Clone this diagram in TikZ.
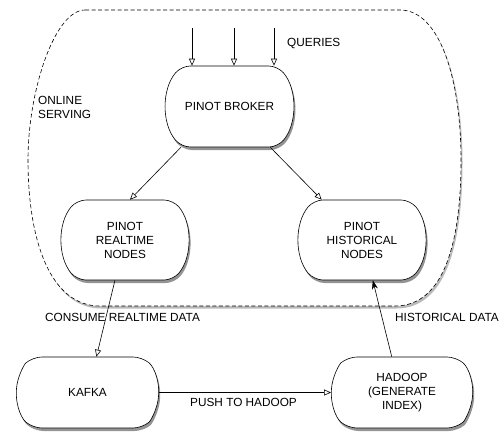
\documentclass[tikz,border=0pt]{standalone}
\usepackage{fontspec}
\setmainfont{Liberation Sans}
\usetikzlibrary{shapes.misc,shadows,arrows.meta}
\definecolor{boxshadow}{gray}{0.3}
\definecolor{regionshadow}{gray}{0.55}

\begin{document}
\begin{tikzpicture}[x=1pt, y=-1pt, font=\fontsize{11.8}{14}\selectfont,
	nodebox/.style={rounded rectangle, rounded rectangle arc length=80, rounded corners=9pt, draw, line width=0.6pt, fill=white, align=center,
		drop shadow={shadow xshift=1.5pt, shadow yshift=-3pt, fill=boxshadow, opacity=0.6}},
	flow/.style={line width=0.6pt, -{Triangle[open,length=7pt,width=6pt]}},
	lbl/.style={anchor=west, inner sep=0pt}]
		\useasboundingbox (0,0) rectangle (503,445);
		% online serving region
		\draw[line width=0.6pt, dash pattern=on 4pt off 2.5pt, fill=white,
			drop shadow={shadow xshift=1.5pt, shadow yshift=-2.5pt, fill=regionshadow, opacity=0.6}]
			(85,10) -- (400,10) .. controls (440,10) and (461,80) .. (461,160)
			.. controls (461,240) and (445,306) .. (395,306) -- (100,306)
			.. controls (50,306) and (28,240) .. (28,160)
			.. controls (28,90) and (55,10) .. cycle;
		\node[nodebox, minimum width=131pt, minimum height=81pt] (broker) at (229.5,106.5) {PINOT BROKER};
		\node[nodebox, minimum width=132pt, minimum height=80pt] (realtime) at (125,240) {PINOT\\REALTIME\\NODES};
		\node[nodebox, minimum width=132pt, minimum height=80pt] (historical) at (362,240) {PINOT\\HISTORICAL\\NODES};
		\node[nodebox, rounded rectangle arc length=100, minimum width=149pt, minimum height=71pt] (kafka) at (87.5,392.5) {KAFKA};
		\node[nodebox, rounded rectangle arc length=100, minimum width=148pt, minimum height=71pt] (hadoop) at (402,392.5) {HADOOP\\(GENERATE\\INDEX)};
		% labels
		\node[lbl] (queries) at (287,43) {QUERIES};
		\node[lbl, align=left] (online) at (38,107) {ONLINE\\SERVING};
		\node[lbl] (consume) at (45,317) {CONSUME REALTIME DATA};
		\node[lbl] (histdata) at (395,317) {HISTORICAL DATA};
		\node[lbl] (push) at (190,402) {PUSH TO HADOOP};
		% connectors
		\foreach \qx [count=\i] in {192,234,274}{
			\coordinate (q\i) at (\qx,28);
			\draw[flow] (q\i) -- (q\i |- broker.north);
		}
		\draw[flow] (broker.-140) -- (realtime.83);
		\draw[flow] (broker.-45) -- (historical.135);
		\draw[flow] (realtime.-104) -- (kafka.76);
		\draw[flow] (kafka.east) -- (hadoop.west);
		\draw[line width=0.6pt, -{Stealth[length=9pt,width=6pt]}] (hadoop.106) -- (historical.-75);
	\end{tikzpicture}
\end{document}
